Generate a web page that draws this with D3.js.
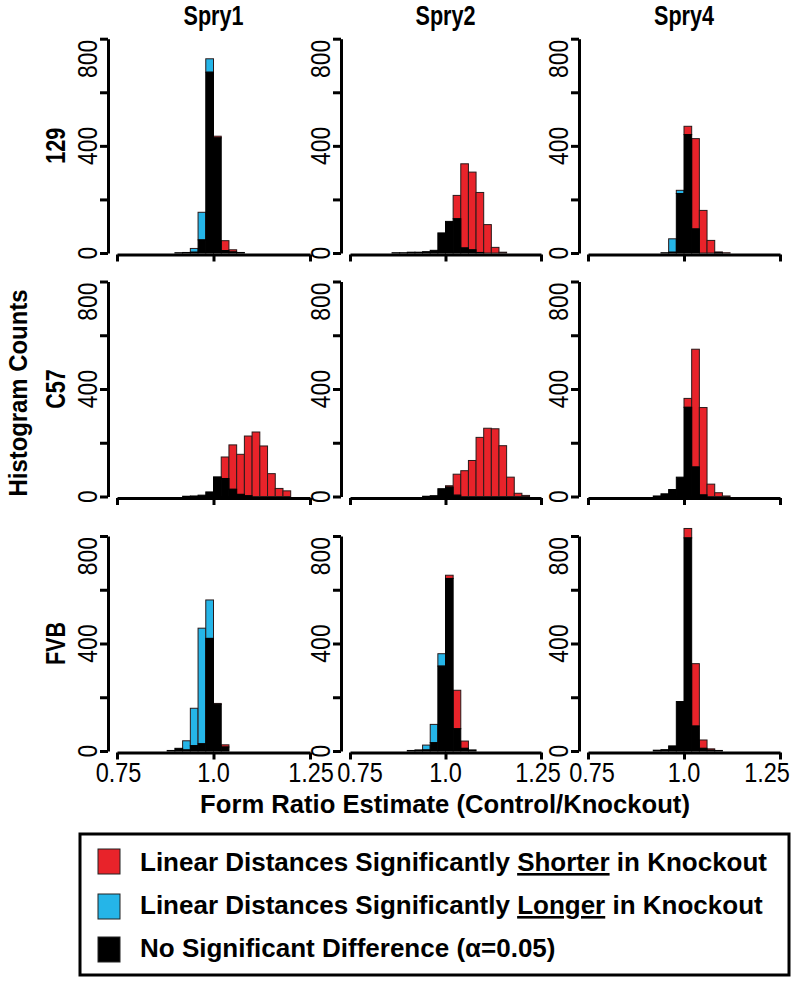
<!DOCTYPE html>
<html><head><meta charset="utf-8">
<script src="https://cdn.jsdelivr.net/npm/d3@7"></script>
<style>body{margin:0;background:#fff}</style>
</head><body>
<svg id="c" width="793" height="982"></svg>
<script>
// ---------- data ----------
const strains = ["129", "C57", "FVB"];
const genes = ["Spry1", "Spry2", "Spry4"];
const binStarts = [0.86,0.88,0.90,0.92,0.94,0.96,0.98,1.00,1.02,1.04,1.06,1.08,1.10,1.12,1.14,1.16,1.18,1.20,1.22];
const binWidth = 0.02;
const xTicks = [0.75, 1.0, 1.25];
const xTickLabels = ["0.75", "1.0", "1.25"];
const yTicks = [0, 200, 400, 600, 800];
const yLabelTicks = [0, 400, 800];
const yTickLabels = ["0", "400", "800"];
const legendLabels = [
  ["Linear Distances Significantly ", "Shorter", " in Knockout"],
  ["Linear Distances Significantly ", "Longer", " in Knockout"],
  ["No Significant Difference (\u03b1=0.05)", "", ""]
];
// counts per bin (bins listed in binStarts)
//                 .86 .88 .90 .92 .94 .96 .98 1.00 1.02 1.04 1.06 1.08 1.10 1.12 1.14 1.16 1.18 1.20 1.22
const black_129_Spry1 = [0,0,1,2,3,49,675,430,9,4,2,0,0,0,0,0,0,0,0];
const blue_129_Spry1  = [0,0,0,0,14,103,50,0,0,0,0,0,0,0,0,0,0,0,0];
const red_129_Spry1   = [0,0,0,0,0,0,0,6,37,8,0,0,0,0,0,0,0,0,0];

const black_129_Spry2 = [1,1,3,3,5,10,75,118,128,19,12,2,0,0,0,0,0,0,0];
const blue_129_Spry2  = [0,0,0,0,0,0,0,0,0,0,0,0,0,0,0,0,0,0,0];
const red_129_Spry2   = [0,0,0,0,0,0,0,0,87,314,290,224,106,21,3,0,0,0,0];

const black_129_Spry4 = [0,0,0,0,1,3,222,442,90,0,0,1,0,0,0,0,0,0,0];
const blue_129_Spry4  = [0,0,0,0,0,50,12,0,0,0,0,0,0,0,0,0,0,0,0];
const red_129_Spry4   = [0,0,0,0,0,0,0,31,337,159,47,3,1,0,0,0,0,0,0];

const black_C57_Spry1 = [0,0,0,1,2,5,17,73,67,27,8,3,0,0,0,0,0,0,0];
const blue_C57_Spry1  = [0,0,0,0,0,0,0,0,0,0,0,0,0,0,0,0,0,0,0];
const red_C57_Spry1   = [0,0,0,0,0,0,0,0,80,165,149,222,240,188,85,30,21,0,0];

const black_C57_Spry2 = [0,0,0,0,1,3,29,35,5,0,0,0,0,0,0,0,0,0,0];
const blue_C57_Spry2  = [0,0,0,0,0,0,0,0,0,0,0,0,0,0,0,0,0,0,0];
const red_C57_Spry2   = [0,0,0,0,0,0,0,5,78,96,134,220,254,252,189,72,12,4,0];

const black_C57_Spry4 = [0,0,0,2,10,26,72,332,110,6,0,0,0,0,0,0,0,0,0];
const blue_C57_Spry4  = [0,0,0,0,0,0,0,0,0,0,0,0,0,0,0,0,0,0,0];
const red_C57_Spry4   = [0,0,0,0,0,0,0,33,438,325,46,14,2,0,0,0,0,0,0];

const black_FVB_Spry1 = [0,2,10,4,20,27,419,174,15,0,0,0,0,0,0,0,0,0,0];
const blue_FVB_Spry1  = [0,0,0,34,139,430,143,0,0,0,0,0,0,0,0,0,0,0,0];
const red_FVB_Spry1   = [0,0,0,0,0,0,0,3,8,0,0,0,0,0,0,0,0,0,0];

const black_FVB_Spry2 = [0,0,2,4,4,31,316,642,83,10,4,0,0,0,0,0,0,0,0];
const blue_FVB_Spry2  = [0,0,0,0,18,68,46,0,0,0,0,0,0,0,0,0,0,0,0];
const red_FVB_Spry2   = [0,0,0,0,0,0,0,12,143,27,0,0,0,0,0,0,0,0,0];

const black_FVB_Spry4 = [0,0,0,3,5,19,184,793,93,10,3,2,0,0,0,0,0,0,0];
const blue_FVB_Spry4  = [0,0,0,0,0,0,0,0,0,0,0,0,0,0,0,0,0,0,0];
const red_FVB_Spry4   = [0,0,0,0,0,0,0,35,232,31,5,0,0,0,0,0,0,0,0];

const panelData = {
  "129": { Spry1: [black_129_Spry1, blue_129_Spry1, red_129_Spry1],
           Spry2: [black_129_Spry2, blue_129_Spry2, red_129_Spry2],
           Spry4: [black_129_Spry4, blue_129_Spry4, red_129_Spry4] },
  "C57": { Spry1: [black_C57_Spry1, blue_C57_Spry1, red_C57_Spry1],
           Spry2: [black_C57_Spry2, blue_C57_Spry2, red_C57_Spry2],
           Spry4: [black_C57_Spry4, blue_C57_Spry4, red_C57_Spry4] },
  "FVB": { Spry1: [black_FVB_Spry1, blue_FVB_Spry1, red_FVB_Spry1],
           Spry2: [black_FVB_Spry2, blue_FVB_Spry2, red_FVB_Spry2],
           Spry4: [black_FVB_Spry4, blue_FVB_Spry4, red_FVB_Spry4] }
};

// ---------- style / layout ----------
const RED = "#E8232A", BLUE = "#25B5E8", BLACK = "#000000";
const fillFor = { black: BLACK, blue: BLUE, red: RED };
const FONT = "'Liberation Sans', Arial, Helvetica, sans-serif";
const colX0 = [117, 350, 588], colX1 = [310, 541, 780];
const rowTop = [38.7, 281.5, 536], rowBot = [253, 496.5, 751];
// horizontal nudges of x tick labels (per column, per tick) so neighbours don't collide
const xLabelShift = [[1.5, 0, 1], [10, 0, -3], [4, 0, -13]];

const svg = d3.select("#c");
svg.append("rect").attr("width", 793).attr("height", 982).attr("fill", "#fff");

function label(parent, str, x, y, o) {
  const t = parent.append("text")
    .attr("text-anchor", o.anchor || "middle")
    .attr("font-family", FONT)
    .attr("font-size", o.size)
    .attr("font-weight", o.weight || "normal")
    .attr("fill", "#000")
    .text(str);
  let sx = o.sx || 1;
  if (o.width) { const w = t.node().getComputedTextLength(); sx = o.width / w; }
  t.attr("transform", `translate(${x},${y}) rotate(${o.rot || 0}) scale(${sx},1)`);
  return t;
}

strains.forEach((strain, r) => {
  genes.forEach((gene, c) => {
    const x = d3.scaleLinear().domain([0.75, 1.25]).range([colX0[c], colX1[c]]);
    const y = d3.scaleLinear().domain([0, 800]).range([rowBot[r], rowTop[r]]);
    const [bk, bl, rd] = panelData[strain][gene];
    const rows = binStarts.map((b, i) => ({ b, black: bk[i], blue: bl[i], red: rd[i] }));
    const layers = d3.stack().keys(["black", "blue", "red"])(rows);
    const g = svg.append("g");
    ["blue", "red", "black"].forEach(key => {
      const layer = layers.find(l => l.key === key);
      g.selectAll(null).data(layer.filter(d => d[1] > d[0])).join("rect")
        .attr("x", d => x(d.data.b))
        .attr("width", d => x(d.data.b + binWidth) - x(d.data.b))
        .attr("y", d => y(d[1]))
        .attr("height", d => y(d[0]) - y(d[1]))
        .attr("fill", fillFor[key])
        .attr("stroke", key === "black" ? BLACK : "#2a1a1a")
        .attr("stroke-width", 1);
    });
    // y axis
    const axX = colX0[c] - 9;
    const ya = svg.append("g").attr("transform", `translate(${axX},0)`)
      .call(d3.axisLeft(y).tickValues(yTicks).tickSize(8).tickSizeOuter(0).tickFormat(""));
    ya.selectAll("path, line").attr("stroke", "#000").attr("stroke-width", 3);
    yLabelTicks.forEach((v, i) => {
      const top = v === 800;
      label(svg, yTickLabels[i], axX - 11, top ? y(v) + 1 : y(v),
        { size: 27, rot: -90, sx: 0.85, anchor: top ? "end" : "middle" });
    });
    // x axis
    const xa = svg.append("g").attr("transform", `translate(0,${rowBot[r] + 1.5})`)
      .call(d3.axisBottom(x).tickValues(xTicks).tickSize(7).tickSizeOuter(0).tickFormat(""));
    xa.selectAll("path, line").attr("stroke", "#000").attr("stroke-width", 3);
    if (r === strains.length - 1) {
      xTicks.forEach((v, i) => {
        label(svg, xTickLabels[i], x(v) + xLabelShift[c][i], rowBot[r] + 31, { size: 27, sx: 0.87 });
      });
    }
    if (r === 0) {
      label(svg, gene, x(1.0), 25, { size: 27, weight: "bold", sx: 0.8 });
    }
    if (c === 0) {
      label(svg, strain, 65, (rowTop[r] + rowBot[r]) / 2, { size: 27, weight: "bold", rot: -90, sx: 0.8 });
    }
  });
});

label(svg, "Histogram Counts", 27, 393, { size: 26, weight: "bold", rot: -90, width: 207 });
label(svg, "Form Ratio Estimate (Control/Knockout)", 445, 813, { size: 25, weight: "bold", width: 490 });

// legend
const lg = svg.append("g");
lg.append("rect").attr("x", 80).attr("y", 834).attr("width", 709).attr("height", 141)
  .attr("fill", "#fff").attr("stroke", "#000").attr("stroke-width", 3);
const swY = [849, 894, 937];
const txY = [871, 914, 957];
const swCol = [RED, BLUE, BLACK];
legendLabels.forEach((parts, i) => {
  lg.append("rect").attr("x", 98).attr("y", swY[i]).attr("width", 22).attr("height", 25)
    .attr("fill", swCol[i]).attr("stroke", "#222").attr("stroke-width", 1);
  const t = lg.append("text").attr("x", 140).attr("y", txY[i])
    .attr("font-family", FONT).attr("font-size", 26).attr("font-weight", "bold");
  t.append("tspan").text(parts[0]);
  if (parts[1]) t.append("tspan").attr("text-decoration", "underline").text(parts[1]);
  if (parts[2]) t.append("tspan").text(parts[2]);
});
</script>
</body></html>
